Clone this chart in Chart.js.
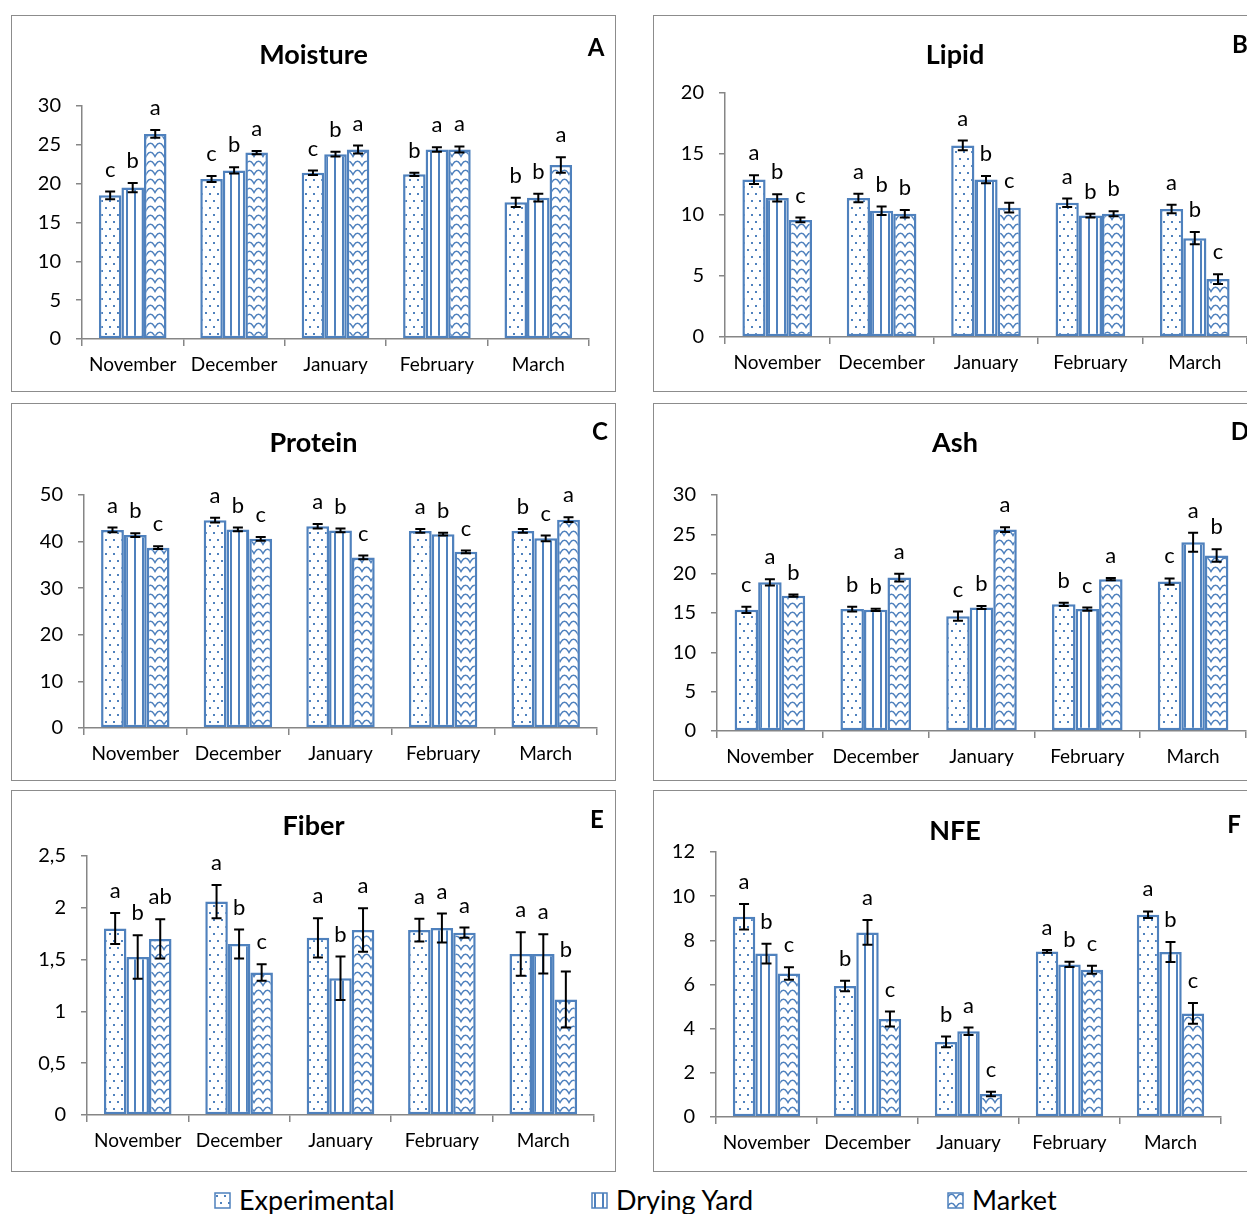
<!DOCTYPE html>
<html>
<head>
<meta charset="utf-8">
<script src="https://cdn.jsdelivr.net/npm/chart.js@4.4.1/dist/chart.umd.min.js"></script>
<style>
  body { margin: 0; background: #fff; width: 1247px; height: 1214px; overflow: hidden; position: relative; font-family: Lato, sans-serif; }
  .box { position: absolute; border: 1px solid #8c8c8c; box-sizing: border-box; }
  canvas.panel { position: absolute; }
  .item { position: absolute; top: 1183px; font-size: 27px; color: #000; line-height: 34px; white-space: nowrap; }
  .item canvas { position: absolute; left: 0; top: 9px; }
  .item span { position: absolute; left: 25px; top: 0; }
</style>
</head>
<body>
<div id="stage"></div>
<div class="item" style="left:214px"><canvas id="sw0" width="17" height="17"></canvas><span>Experimental</span></div>
<div class="item" style="left:591px"><canvas id="sw1" width="17" height="17"></canvas><span>Drying Yard</span></div>
<div class="item" style="left:947px"><canvas id="sw2" width="17" height="17"></canvas><span>Market</span></div>
<script>
const months = ['November', 'December', 'January', 'February', 'March'];
const series = ['Experimental', 'Drying Yard', 'Market'];

// Moisture
const moistureExp = [18.5, 20.6, 21.4, 21.2, 17.6];
const moistureDry = [19.5, 21.7, 23.8, 24.4, 18.2];
const moistureMkt = [26.4, 24.0, 24.4, 24.4, 22.4];
const moistureErrExp = [0.5, 0.4, 0.3, 0.2, 0.6];
const moistureErrDry = [0.6, 0.4, 0.3, 0.3, 0.5];
const moistureErrMkt = [0.5, 0.2, 0.5, 0.4, 1.0];
const moistureLetExp = ['c', 'c', 'c', 'b', 'b'];
const moistureLetDry = ['b', 'b', 'b', 'a', 'b'];
const moistureLetMkt = ['a', 'a', 'a', 'a', 'a'];

// Lipid
const lipidExp = [12.9, 11.4, 15.7, 11.0, 10.5];
const lipidDry = [11.4, 10.35, 12.9, 9.95, 8.1];
const lipidMkt = [9.6, 10.1, 10.6, 10.1, 4.75];
const lipidErrExp = [0.35, 0.35, 0.4, 0.35, 0.35];
const lipidErrDry = [0.3, 0.35, 0.3, 0.15, 0.5];
const lipidErrMkt = [0.2, 0.3, 0.4, 0.2, 0.4];
const lipidLetExp = ['a', 'a', 'a', 'a', 'a'];
const lipidLetDry = ['b', 'b', 'b', 'b', 'b'];
const lipidLetMkt = ['c', 'b', 'c', 'b', 'c'];

// Protein
const proteinExp = [42.5, 44.6, 43.3, 42.3, 42.3];
const proteinDry = [41.4, 42.6, 42.4, 41.6, 40.7];
const proteinMkt = [38.7, 40.6, 36.6, 37.8, 44.7];
const proteinErrExp = [0.5, 0.5, 0.5, 0.4, 0.4];
const proteinErrDry = [0.4, 0.4, 0.4, 0.3, 0.6];
const proteinErrMkt = [0.3, 0.4, 0.4, 0.3, 0.5];
const proteinLetExp = ['a', 'a', 'a', 'a', 'b'];
const proteinLetDry = ['b', 'b', 'b', 'b', 'c'];
const proteinLetMkt = ['c', 'c', 'c', 'c', 'a'];

// Ash
const ashExp = [15.4, 15.5, 14.6, 16.1, 19.0];
const ashDry = [18.9, 15.4, 15.7, 15.5, 24.0];
const ashMkt = [17.2, 19.5, 25.6, 19.3, 22.3];
const ashErrExp = [0.4, 0.3, 0.6, 0.2, 0.4];
const ashErrDry = [0.4, 0.15, 0.2, 0.2, 1.2];
const ashErrMkt = [0.15, 0.5, 0.3, 0.15, 0.8];
const ashLetExp = ['c', 'b', 'c', 'b', 'c'];
const ashLetDry = ['a', 'b', 'b', 'c', 'a'];
const ashLetMkt = ['b', 'a', 'a', 'a', 'b'];

// Fiber
const fiberExp = [1.80, 2.06, 1.71, 1.785, 1.555];
const fiberDry = [1.525, 1.65, 1.32, 1.805, 1.555];
const fiberMkt = [1.70, 1.375, 1.785, 1.76, 1.115];
const fiberErrExp = [0.15, 0.16, 0.19, 0.11, 0.21];
const fiberErrDry = [0.21, 0.14, 0.21, 0.14, 0.19];
const fiberErrMkt = [0.19, 0.08, 0.21, 0.05, 0.27];
const fiberLetExp = ['a', 'a', 'a', 'a', 'a'];
const fiberLetDry = ['b', 'b', 'b', 'a', 'a'];
const fiberLetMkt = ['ab', 'c', 'a', 'a', 'b'];

// NFE
const nfeExp = [9.07, 5.93, 3.40, 7.50, 9.16];
const nfeDry = [7.40, 8.36, 3.88, 6.91, 7.47];
const nfeMkt = [6.50, 4.44, 1.04, 6.67, 4.69];
const nfeErrExp = [0.58, 0.24, 0.24, 0.06, 0.15];
const nfeErrDry = [0.45, 0.56, 0.17, 0.12, 0.45];
const nfeErrMkt = [0.28, 0.34, 0.10, 0.18, 0.47];
const nfeLetExp = ['a', 'b', 'b', 'a', 'a'];
const nfeLetDry = ['b', 'a', 'a', 'b', 'b'];
const nfeLetMkt = ['c', 'c', 'c', 'c', 'c'];

const blue = '#4f81bd';
const axisGrey = '#868686';
const fontFamily = 'Lato, sans-serif';

// fill patterns: dots, vertical lines, waves
function makePattern(kind) {
    const t = document.createElement('canvas');
    const c = t.getContext('2d');
    if (kind === 0) {
        t.width = 8; t.height = 14;
        c.fillStyle = '#fff'; c.fillRect(0, 0, 8, 14);
        c.fillStyle = blue;
        c.fillRect(2, 3, 2, 2);
        c.fillRect(6, 10, 2, 2);
    } else if (kind === 1) {
        t.width = 8; t.height = 4;
        c.fillStyle = '#fff'; c.fillRect(0, 0, 8, 4);
        c.fillStyle = blue;
        c.fillRect(3, 0, 2, 4);
    } else {
        t.width = 9; t.height = 9;
        c.fillStyle = '#fff'; c.fillRect(0, 0, 9, 9);
        c.strokeStyle = blue; c.lineWidth = 1.5;
        c.beginPath();
        c.moveTo(-0.5, 7.5);
        c.quadraticCurveTo(4.5, -3, 9.5, 7.5);
        c.stroke();
    }
    return document.createElement('canvas').getContext('2d').createPattern(t, 'repeat');
}
const patterns = [makePattern(0), makePattern(1), makePattern(2)];

const errorBars = {
    id: 'errorBars',
    afterDatasetsDraw(chart) {
        const ctx = chart.ctx;
        const y = chart.scales.y;
        ctx.save();
        ctx.strokeStyle = '#000';
        ctx.lineWidth = 2;
        ctx.fillStyle = '#000';
        ctx.font = '22px ' + fontFamily;
        ctx.textAlign = 'center';
        ctx.textBaseline = 'middle';
        chart.data.datasets.forEach((ds, i) => {
            chart.getDatasetMeta(i).data.forEach((bar, j) => {
                const v = ds.data[j], e = ds.errors[j];
                const top = y.getPixelForValue(v + e);
                const bot = y.getPixelForValue(v - e);
                ctx.beginPath();
                ctx.moveTo(bar.x, top); ctx.lineTo(bar.x, bot);
                ctx.moveTo(bar.x - 5, top); ctx.lineTo(bar.x + 5, top);
                ctx.moveTo(bar.x - 5, bot); ctx.lineTo(bar.x + 5, bot);
                ctx.stroke();
                ctx.fillText(ds.letters[j], bar.x, top - 22);
            });
        });
        ctx.restore();
    }
};

const panelText = {
    id: 'panelText',
    afterDraw(chart, args, opts) {
        const ctx = chart.ctx;
        ctx.save();
        ctx.fillStyle = '#000';
        ctx.textBaseline = 'middle';
        ctx.textAlign = 'center';
        ctx.font = 'bold 27px ' + fontFamily;
        ctx.fillText(opts.title, chart.width / 2, opts.titleY);
        ctx.font = 'bold 24px ' + fontFamily;
        ctx.fillText(opts.letter, opts.letterX, opts.letterY);
        ctx.restore();
    }
};

const panels = [
    { title: 'Moisture', letter: 'A', left: 11, top: 15, w: 605, h: 377, axisX: 71, plotTop: 91, plotBottom: 324, plotRight: 578, max: 30, step: 5, titleY: 40, letterX: 585, letterY: 33,
      values: [moistureExp, moistureDry, moistureMkt], errors: [moistureErrExp, moistureErrDry, moistureErrMkt], letters: [moistureLetExp, moistureLetDry, moistureLetMkt] },
    { title: 'Lipid', letter: 'B', left: 653, top: 15, w: 604, h: 377, axisX: 72, plotTop: 78, plotBottom: 322, plotRight: 594, max: 20, step: 5, titleY: 40, letterX: 587, letterY: 30,
      values: [lipidExp, lipidDry, lipidMkt], errors: [lipidErrExp, lipidErrDry, lipidErrMkt], letters: [lipidLetExp, lipidLetDry, lipidLetMkt] },
    { title: 'Protein', letter: 'C', left: 11, top: 403, w: 605, h: 378, axisX: 73, plotTop: 92, plotBottom: 325, plotRight: 586, max: 50, step: 10, titleY: 40, letterX: 589, letterY: 29,
      values: [proteinExp, proteinDry, proteinMkt], errors: [proteinErrExp, proteinErrDry, proteinErrMkt], letters: [proteinLetExp, proteinLetDry, proteinLetMkt] },
    { title: 'Ash', letter: 'D', left: 653, top: 403, w: 604, h: 378, axisX: 64, plotTop: 92, plotBottom: 328, plotRight: 593, max: 30, step: 5, titleY: 40, letterX: 587, letterY: 29,
      values: [ashExp, ashDry, ashMkt], errors: [ashErrExp, ashErrDry, ashErrMkt], letters: [ashLetExp, ashLetDry, ashLetMkt] },
    { title: 'Fiber', letter: 'E', left: 11, top: 790, w: 605, h: 382, axisX: 76, plotTop: 66, plotBottom: 325, plotRight: 583, max: 2.5, step: 0.5, titleY: 36, letterX: 586, letterY: 30,
      values: [fiberExp, fiberDry, fiberMkt], errors: [fiberErrExp, fiberErrDry, fiberErrMkt], letters: [fiberLetExp, fiberLetDry, fiberLetMkt] },
    { title: 'NFE', letter: 'F', left: 653, top: 790, w: 604, h: 382, axisX: 63, plotTop: 62, plotBottom: 327, plotRight: 568, max: 12, step: 2, titleY: 41, letterX: 581, letterY: 35,
      values: [nfeExp, nfeDry, nfeMkt], errors: [nfeErrExp, nfeErrDry, nfeErrMkt], letters: [nfeLetExp, nfeLetDry, nfeLetMkt] },
];

const stage = document.getElementById('stage');

panels.forEach(p => {
    const box = document.createElement('div');
    box.className = 'box';
    box.style.cssText = `left:${p.left}px;top:${p.top}px;width:${p.w}px;height:${p.h}px`;
    stage.appendChild(box);

    const canvas = document.createElement('canvas');
    canvas.className = 'panel';
    canvas.width = p.w;
    canvas.height = p.h;
    canvas.style.cssText = `left:${p.left}px;top:${p.top}px;width:${p.w}px;height:${p.h}px`;
    stage.appendChild(canvas);

    new Chart(canvas, {
        type: 'bar',
        data: {
            labels: months,
            datasets: series.map((name, i) => ({
                label: name,
                data: p.values[i],
                errors: p.errors[i],
                letters: p.letters[i],
                backgroundColor: patterns[i],
                borderColor: blue,
                borderWidth: 2.5,
                borderSkipped: false,
                categoryPercentage: 0.667,
                barPercentage: 1,
            }))
        },
        options: {
            responsive: false,
            animation: false,
            devicePixelRatio: 1,
            layout: { padding: { top: p.plotTop, right: p.w - p.plotRight, bottom: 0, left: 0 } },
            plugins: {
                legend: { display: false },
                tooltip: { enabled: false },
                panelText: { title: p.title, letter: p.letter, titleY: p.titleY, letterX: p.letterX, letterY: p.letterY },
            },
            scales: {
                x: {
                    grid: { drawOnChartArea: false, offset: true, tickLength: 7, color: axisGrey, lineWidth: 1.5 },
                    border: { color: axisGrey, width: 1.5 },
                    ticks: { color: '#000', font: { family: fontFamily, size: 19 }, padding: 7, maxRotation: 0 },
                    afterFit(s) { s.height = p.h - p.plotBottom; }
                },
                y: {
                    min: 0,
                    max: p.max,
                    grid: { drawOnChartArea: false, tickLength: 6, color: axisGrey, lineWidth: 1.5 },
                    border: { color: axisGrey, width: 1.5 },
                    ticks: {
                        stepSize: p.step,
                        color: '#000',
                        font: { family: fontFamily, size: 20 },
                        padding: 15,
                        callback: v => String(v).replace('.', ',')
                    },
                    afterFit(s) { s.width = p.axisX; }
                }
            }
        },
        plugins: [errorBars, panelText]
    });
});

// legend swatches
patterns.forEach((pat, i) => {
    const c = document.getElementById('sw' + i).getContext('2d');
    c.fillStyle = pat;
    c.fillRect(1, 1, 15, 15);
    c.strokeStyle = blue;
    c.lineWidth = 1.5;
    c.strokeRect(1, 1, 15, 15);
});
</script>
</body>
</html>
